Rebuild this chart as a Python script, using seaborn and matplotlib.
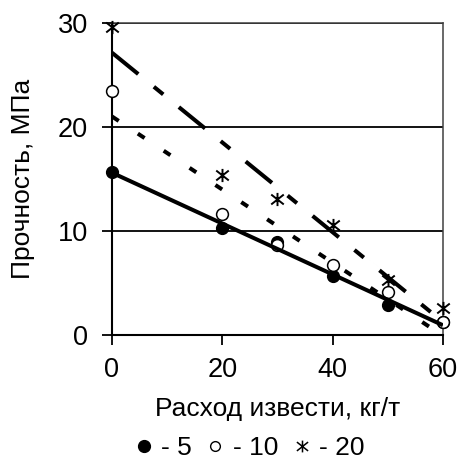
import numpy as np
import pandas as pd
import matplotlib
matplotlib.use("Agg")
import matplotlib.pyplot as plt
from matplotlib.path import Path
from matplotlib.lines import Line2D
import seaborn as sns

# ---- data ----
lime = [0, 20, 30, 40, 50, 60]
s5 = [15.7, 10.3, 8.9, 5.7, 2.9, 1.25]
s10 = [23.5, 11.6, 8.65, 6.7, 4.1, 1.25]
s20 = [29.6, 15.4, 13.1, 10.6, 5.3, 2.6]
series_names = ["5", "10", "20"]
x_ticks = [0, 20, 40, 60]
y_ticks = [0, 10, 20, 30]
x_label = "Расход извести, кг/т"
y_label = "Прочность, МПа"

df = pd.DataFrame({
    "x": lime * 3,
    "y": s5 + s10 + s20,
    "s": [series_names[0]] * 6 + [series_names[1]] * 6 + [series_names[2]] * 6,
})

sns.set_theme(style="white")
plt.rcParams["font.family"] = ["Liberation Sans", "DejaVu Sans"]
for k in ["text.color", "axes.labelcolor", "xtick.color", "ytick.color"]:
    plt.rcParams[k] = "black"

star = Path([(0, -1), (0, 1), (-0.95, -0.75), (0.95, 0.75), (-0.95, 0.75), (0.95, -0.75)],
            [Path.MOVETO, Path.LINETO] * 3)

fig = plt.figure(figsize=(4.59, 4.63), dpi=100)
ax = fig.add_axes([0.244, 0.2765, 0.721, 0.6735])

# gridlines
for yv in y_ticks[1:]:
    ax.axhline(yv, color="black", lw=1.3, zorder=1)

styles = {
    "5": dict(marker="o", mfc="black", mec="black", ms=8.5, mew=1.0),
    "10": dict(marker="o", mfc="white", mec="black", ms=8.5, mew=1.1),
    "20": dict(marker=star, mfc="none", mec="black", ms=9.5, mew=1.4),
}
order_z = {"5": 3, "10": 4, "20": 5}
for name in series_names:
    d = df[df.s == name]
    ax.plot(d.x, d.y, ls="none", clip_on=False, zorder=order_z[name], **styles[name])

lw = 2.9
line_kw = {
    "5": dict(ls="-", lw=lw),
    "10": dict(ls=(0, (2.0, 5.7)), lw=lw),
    "20": dict(ls=(0, (8.4, 5.0, 3.0, 5.0)), lw=lw),
}
for name in series_names:
    d = df[df.s == name]
    sns.regplot(data=d, x="x", y="y", ax=ax, ci=None, scatter=False, truncate=True,
                line_kws=dict(color="black", zorder=6, solid_capstyle="butt",
                              dash_capstyle="butt", **line_kw[name]))

ax.set_xlim(0, 60)
ax.set_ylim(0, 30)
ax.set_xticks(x_ticks)
ax.set_yticks(y_ticks)
ax.set_xlabel(x_label, fontsize=19)
ax.set_ylabel(y_label, fontsize=19)
ax.xaxis.set_label_coords(0.5, -0.2)
ax.yaxis.set_label_coords(-0.232, 0.5)
ax.tick_params(axis="both", labelsize=19.5, direction="out", length=7.2, width=1.3,
               color="black", bottom=True, left=True)
ax.tick_params(axis="x", pad=9)
ax.tick_params(axis="y", pad=10)
for side in ["left", "bottom"]:
    ax.spines[side].set_color("black")
    ax.spines[side].set_linewidth(1.5)
for side in ["top", "right"]:
    ax.spines[side].set_color("#404040")
    ax.spines[side].set_linewidth(1.1)
ax.spines["left"].set_zorder(2)

handles = [
    Line2D([], [], ls="none", marker="o", mfc="black", mec="black", ms=8.5),
    Line2D([], [], ls="none", marker="o", mfc="white", mec="black", ms=7, mew=1.0),
    Line2D([], [], ls="none", marker=star, mfc="none", mec="black", ms=8.5, mew=1.1),
]
fig.legend(handles, ["- " + n for n in series_names], loc="lower center",
           bbox_to_anchor=(0.545, -0.045), ncol=3, frameon=False, fontsize=19,
           handlelength=0.6, handletextpad=0.35, columnspacing=0.6)

fig.savefig("out.png", dpi=100)
